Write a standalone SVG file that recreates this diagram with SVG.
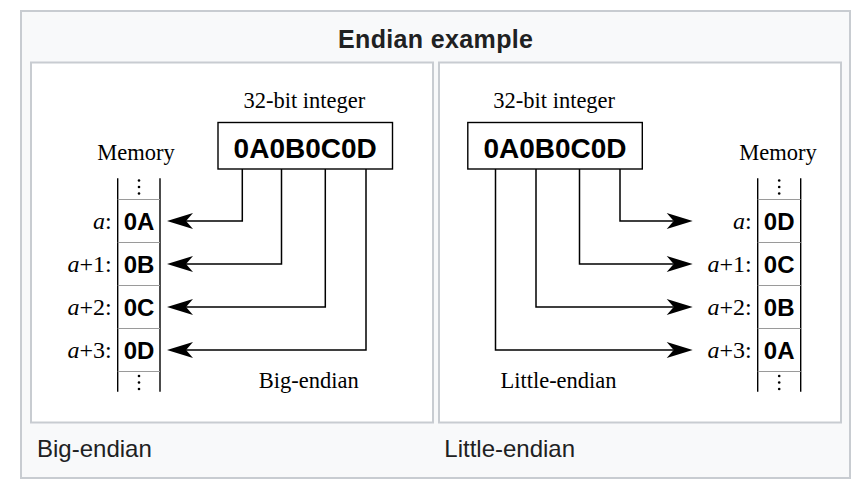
<svg xmlns="http://www.w3.org/2000/svg" width="862" height="492" viewBox="0 0 862 492">
<style>
.frame{fill:#f8f9fa;stroke:#c8ccd1;stroke-width:2}
.panel{fill:#ffffff;stroke:#c8ccd1;stroke-width:2}
.title{font-family:"Liberation Sans",Arial,sans-serif;font-weight:bold;font-size:25px;fill:#202122;text-anchor:middle}
.caption{font-family:"Liberation Sans",Arial,sans-serif;font-size:24px;fill:#202122}
.serif{font-family:"Liberation Serif","Times New Roman",serif;font-size:22.5px;fill:#000}
.lbl{font-family:"Liberation Serif","Times New Roman",serif;font-size:24px;fill:#000;text-anchor:end}
.it{font-style:italic}
.hex{font-family:"Liberation Sans",Arial,sans-serif;font-weight:bold;font-size:28px;fill:#000;text-anchor:middle}
.cell{font-family:"Liberation Sans",Arial,sans-serif;font-weight:bold;font-size:24px;fill:#000;text-anchor:middle}
.box{fill:#fff;stroke:#000;stroke-width:1.4}
.col{stroke:#000;stroke-width:1.4;fill:none}
.sep{stroke:#9a9a9a;stroke-width:1.2;fill:none}
.conn{stroke:#000;stroke-width:1.5;fill:none}
.dot{fill:#000}
</style>
<defs>
<marker id="dart" markerUnits="userSpaceOnUse" markerWidth="30" markerHeight="20" refX="0" refY="0" orient="auto" overflow="visible">
<path d="M19,0 L-7,-8 L0,0 L-7,8 Z" fill="#000"/>
</marker>
</defs>

<g id="gallery">
<rect class="frame" x="21" y="11" width="829" height="467"/>
<text class="title" x="435.5" y="48.3" textLength="195" lengthAdjust="spacing">Endian example</text>
<rect class="panel" x="31" y="62.5" width="402" height="360"/>
<rect class="panel" x="439" y="62.5" width="402" height="360"/>
<text class="caption" x="37" y="456.5">Big-endian</text>
<text class="caption" x="444.3" y="456.5">Little-endian</text>
</g>

<g id="big-integer">
<text class="serif" x="304.4" y="108.3" text-anchor="middle">32-bit integer</text>
<rect class="box" x="218" y="122.5" width="174.5" height="46.5"/>
<text class="hex" x="305.2" y="157.7">0A0B0C0D</text>
</g>

<g id="big-memory">
<text class="serif" x="136" y="160" text-anchor="middle">Memory</text>
<path class="col" d="M117.7,178.3 V391.7 M160,178.3 V391.7"/>
<path class="sep" d="M117.7,199.5 H160 M117.7,242.5 H160 M117.7,285.5 H160 M117.7,328.5 H160 M117.7,371.5 H160"/>
<circle class="dot" cx="139" cy="180.5" r="1.3"/><circle class="dot" cx="139" cy="187" r="1.3"/><circle class="dot" cx="139" cy="193.5" r="1.3"/>
<circle class="dot" cx="139" cy="376" r="1.3"/><circle class="dot" cx="139" cy="382.5" r="1.3"/><circle class="dot" cx="139" cy="389" r="1.3"/>
<text class="cell" x="139" y="230">0A</text>
<text class="cell" x="139" y="273">0B</text>
<text class="cell" x="139" y="316">0C</text>
<text class="cell" x="139" y="359">0D</text>
<text class="lbl" x="111.7" y="228.5"><tspan class="it">a</tspan>:</text>
<text class="lbl" x="111.7" y="271.5"><tspan class="it">a</tspan>+1:</text>
<text class="lbl" x="111.7" y="314.5"><tspan class="it">a</tspan>+2:</text>
<text class="lbl" x="111.7" y="357.5"><tspan class="it">a</tspan>+3:</text>
<text class="serif" x="308.8" y="388.3" text-anchor="middle">Big-endian</text>
</g>

<g id="little-integer">
<text class="serif" x="554.2" y="108.3" text-anchor="middle">32-bit integer</text>
<rect class="box" x="467.8" y="122.5" width="174.5" height="46.5"/>
<text class="hex" x="555" y="157.7">0A0B0C0D</text>
</g>

<g id="little-memory">
<text class="serif" x="778" y="160" text-anchor="middle">Memory</text>
<path class="col" d="M757.7,178.3 V391.7 M800.7,178.3 V391.7"/>
<path class="sep" d="M757.7,199.5 H800.7 M757.7,242.5 H800.7 M757.7,285.5 H800.7 M757.7,328.5 H800.7 M757.7,371.5 H800.7"/>
<circle class="dot" cx="779.2" cy="180.5" r="1.3"/><circle class="dot" cx="779.2" cy="187" r="1.3"/><circle class="dot" cx="779.2" cy="193.5" r="1.3"/>
<circle class="dot" cx="779.2" cy="376" r="1.3"/><circle class="dot" cx="779.2" cy="382.5" r="1.3"/><circle class="dot" cx="779.2" cy="389" r="1.3"/>
<text class="cell" x="779.2" y="230">0D</text>
<text class="cell" x="779.2" y="273">0C</text>
<text class="cell" x="779.2" y="316">0B</text>
<text class="cell" x="779.2" y="359">0A</text>
<text class="lbl" x="751.7" y="228.5"><tspan class="it">a</tspan>:</text>
<text class="lbl" x="751.7" y="271.5"><tspan class="it">a</tspan>+1:</text>
<text class="lbl" x="751.7" y="314.5"><tspan class="it">a</tspan>+2:</text>
<text class="lbl" x="751.7" y="357.5"><tspan class="it">a</tspan>+3:</text>
<text class="serif" x="558.5" y="388.3" text-anchor="middle">Little-endian</text>
</g>

<g id="connectors">
<path class="conn" marker-end="url(#dart)" d="M242.3,169 V221 H186"/>
<path class="conn" marker-end="url(#dart)" d="M281.5,169 V264 H186"/>
<path class="conn" marker-end="url(#dart)" d="M325.3,169 V307 H186"/>
<path class="conn" marker-end="url(#dart)" d="M366,169 V350 H186"/>
<path class="conn" marker-end="url(#dart)" d="M620,169 V221 H673.7"/>
<path class="conn" marker-end="url(#dart)" d="M579.5,169 V264 H673.7"/>
<path class="conn" marker-end="url(#dart)" d="M536,169 V307 H673.7"/>
<path class="conn" marker-end="url(#dart)" d="M495.5,169 V350 H673.7"/>
</g>
</svg>
